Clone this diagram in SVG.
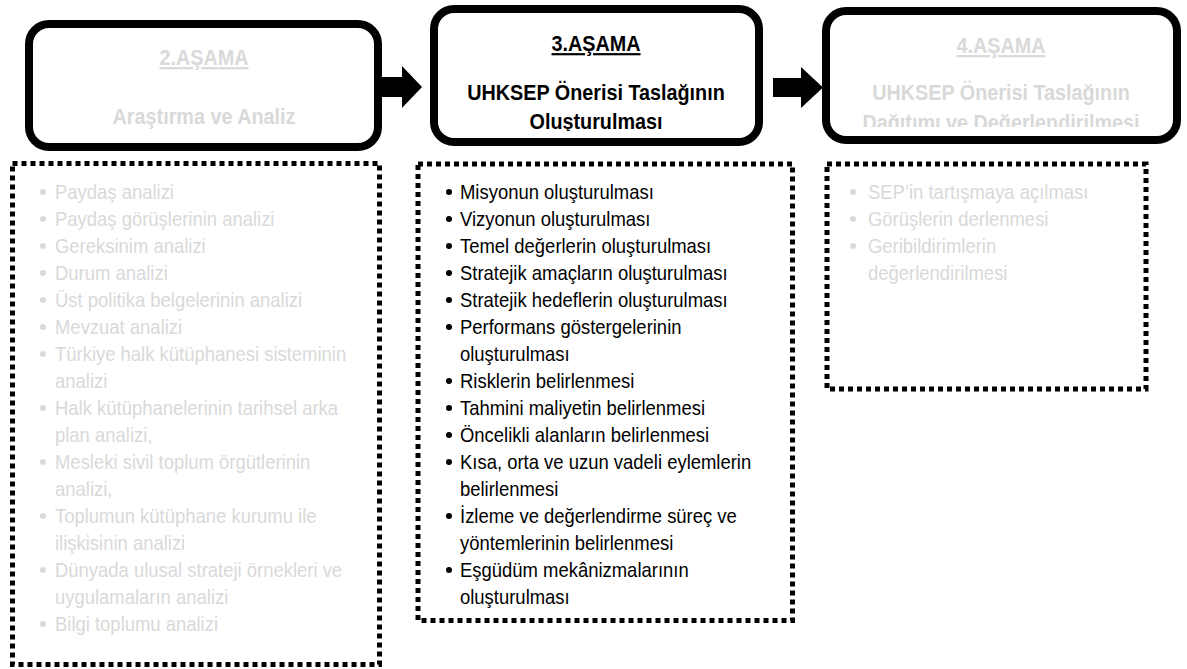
<svg xmlns="http://www.w3.org/2000/svg" width="1187" height="669" viewBox="0 0 1187 669">
<style>
.stage{fill:#fff;stroke:#000;stroke-width:8}
.dots{fill:none;stroke:#000;stroke-width:5;stroke-dasharray:5 4}
.t{font-family:"Liberation Sans",Arial,sans-serif}
.title{font-size:22px;font-weight:bold;text-anchor:middle}
.u{text-decoration:underline}
.li{font-size:20.5px}
.g{fill:#d9d9d9}
.k{fill:#000}
.arrow{fill:#000;stroke:none}
</style>
<defs>
<clipPath id="c2"><rect x="434" y="9" width="325" height="122"/></clipPath>
<clipPath id="c3"><rect x="826" y="11" width="351" height="116"/></clipPath>
</defs>
<rect width="1187" height="669" fill="#fff"/>

<g id="connectors">
<path class="arrow" d="M382 77 H402 V66 L422 87 L402 108 V97 H382 Z"/>
<path class="arrow" d="M773 78 H801 V67 L823 87.5 L801 108 V97 H773 Z"/>
</g>

<g id="stage2">
<rect class="stage" x="29" y="24" width="349" height="123" rx="20"/>
<g transform="translate(204 0) scale(0.9 1)" class="t title g">
<text class="u" x="0" y="65">2.AŞAMA</text>
<text x="0" y="124">Araştırma ve Analiz</text>
</g>
</g>

<g id="stage3">
<rect class="stage" x="434" y="9" width="325" height="133" rx="20"/>
<g clip-path="url(#c2)">
<g transform="translate(596 0) scale(0.9 1)" class="t title k">
<text class="u" x="0" y="51">3.AŞAMA</text>
<text x="0" y="100">UHKSEP Önerisi Taslağının</text>
<text x="0" y="129">Oluşturulması</text>
</g>
</g>
</g>

<g id="stage4">
<rect class="stage" x="826" y="11" width="351" height="129" rx="20"/>
<g clip-path="url(#c3)">
<g transform="translate(1001 0) scale(0.9 1)" class="t title g">
<text class="u" x="0" y="53">4.AŞAMA</text>
<text x="0" y="100">UHKSEP Önerisi Taslağının</text>
<text x="0" y="130">Dağıtımı ve Değerlendirilmesi</text>
</g>
</g>
</g>

<g id="list2">
<rect class="dots" x="12.5" y="163.5" width="367" height="501"/>
<g class="g">
<circle cx="43" cy="192" r="3"/><circle cx="43" cy="219" r="3"/><circle cx="43" cy="246" r="3"/><circle cx="43" cy="273" r="3"/><circle cx="43" cy="300" r="3"/><circle cx="43" cy="327" r="3"/><circle cx="43" cy="354" r="3"/><circle cx="43" cy="408" r="3"/><circle cx="43" cy="462" r="3"/><circle cx="43" cy="516" r="3"/><circle cx="43" cy="570" r="3"/><circle cx="43" cy="624" r="3"/>
</g>
<g transform="translate(55 0) scale(0.9 1)" class="t li g">
<text x="0" y="199">Paydaş analizi</text>
<text x="0" y="226">Paydaş görüşlerinin analizi</text>
<text x="0" y="253">Gereksinim analizi</text>
<text x="0" y="280">Durum analizi</text>
<text x="0" y="307">Üst politika belgelerinin analizi</text>
<text x="0" y="334">Mevzuat analizi</text>
<text x="0" y="361">Türkiye halk kütüphanesi sisteminin</text>
<text x="0" y="388">analizi</text>
<text x="0" y="415">Halk kütüphanelerinin tarihsel arka</text>
<text x="0" y="442">plan analizi,</text>
<text x="0" y="469">Mesleki sivil toplum örgütlerinin</text>
<text x="0" y="496">analizi,</text>
<text x="0" y="523">Toplumun kütüphane kurumu ile</text>
<text x="0" y="550">ilişkisinin analizi</text>
<text x="0" y="577">Dünyada ulusal strateji örnekleri ve</text>
<text x="0" y="604">uygulamaların analizi</text>
<text x="0" y="631">Bilgi toplumu analizi</text>
</g>
</g>

<g id="list3">
<rect class="dots" x="418" y="164" width="374.5" height="456.5"/>
<g class="k">
<circle cx="449" cy="192" r="3"/><circle cx="449" cy="219" r="3"/><circle cx="449" cy="246" r="3"/><circle cx="449" cy="273" r="3"/><circle cx="449" cy="300" r="3"/><circle cx="449" cy="327" r="3"/><circle cx="449" cy="381" r="3"/><circle cx="449" cy="408" r="3"/><circle cx="449" cy="435" r="3"/><circle cx="449" cy="462" r="3"/><circle cx="449" cy="516" r="3"/><circle cx="449" cy="570" r="3"/>
</g>
<g transform="translate(460 0) scale(0.9 1)" class="t li k">
<text x="0" y="199">Misyonun oluşturulması</text>
<text x="0" y="226">Vizyonun oluşturulması</text>
<text x="0" y="253">Temel değerlerin oluşturulması</text>
<text x="0" y="280">Stratejik amaçların oluşturulması</text>
<text x="0" y="307">Stratejik hedeflerin oluşturulması</text>
<text x="0" y="334">Performans göstergelerinin</text>
<text x="0" y="361">oluşturulması</text>
<text x="0" y="388">Risklerin belirlenmesi</text>
<text x="0" y="415">Tahmini maliyetin belirlenmesi</text>
<text x="0" y="442">Öncelikli alanların belirlenmesi</text>
<text x="0" y="469">Kısa, orta ve uzun vadeli eylemlerin</text>
<text x="0" y="496">belirlenmesi</text>
<text x="0" y="523">İzleme ve değerlendirme süreç ve</text>
<text x="0" y="550">yöntemlerinin belirlenmesi</text>
<text x="0" y="577">Eşgüdüm mekânizmalarının</text>
<text x="0" y="604">oluşturulması</text>
</g>
</g>

<g id="list4">
<rect class="dots" x="827" y="164" width="319" height="225"/>
<g class="g">
<circle cx="853" cy="192" r="3"/><circle cx="853" cy="219" r="3"/><circle cx="853" cy="246" r="3"/>
</g>
<g transform="translate(868 0) scale(0.9 1)" class="t li g">
<text x="0" y="199">SEP’in tartışmaya açılması</text>
<text x="0" y="226">Görüşlerin derlenmesi</text>
<text x="0" y="253">Geribildirimlerin</text>
<text x="0" y="280">değerlendirilmesi</text>
</g>
</g>
</svg>
